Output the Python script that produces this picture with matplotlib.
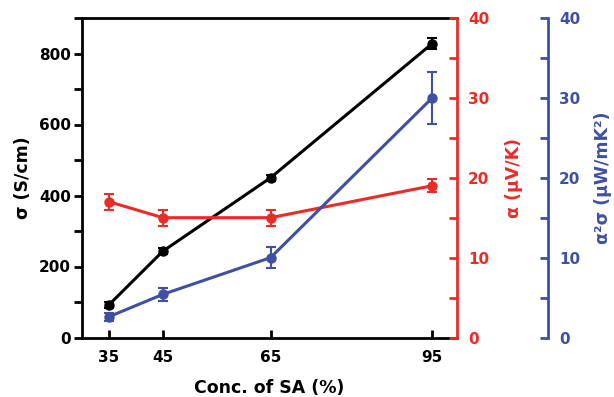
import matplotlib
matplotlib.use("Agg")
import matplotlib.pyplot as plt
from matplotlib.ticker import MultipleLocator

plt.rcParams['font.family'] = ['DejaVu Sans']
plt.rcParams['font.weight'] = 'bold'

conc = [35, 45, 65, 95]
sigma = [92, 243, 450, 828]
sigma_err = [8, 8, 8, 15]
alpha = [17, 15, 15, 19]
alpha_err = [1.0, 1.0, 1.0, 0.8]
pf = [2.6, 5.4, 10.0, 30.0]
pf_err = [0.5, 0.8, 1.3, 3.3]

RED = '#ec2b27'
BLUE = '#3f4fa3'

fig = plt.figure(figsize=(6.14, 3.97), dpi=100)
ax = fig.add_axes([82/614, 1-337.5/397, (457-82)/614, (337.5-18)/397])
ax2 = ax.twinx()
ax3 = ax.twinx()

lw = 2.2
kw = dict(lw=lw, marker='o', ms=6.5, capsize=3.5, capthick=1.5, elinewidth=1.5)
ax.errorbar(conc, sigma, yerr=sigma_err, color='black', **kw)
ax2.errorbar(conc, alpha, yerr=alpha_err, color=RED, mfc=RED, **kw)
ax3.errorbar(conc, pf, yerr=pf_err, color=BLUE, mfc=BLUE, **kw)

ax.set_xlim(30, 99.6)
ax.set_ylim(0, 900)
ax2.set_ylim(0, 40)
ax3.set_ylim(0, 40)

ax.set_xticks(conc)
ax.yaxis.set_major_locator(MultipleLocator(200))
ax.yaxis.set_minor_locator(MultipleLocator(100))
for a in (ax2, ax3):
    a.yaxis.set_major_locator(MultipleLocator(10))
    a.yaxis.set_minor_locator(MultipleLocator(5))

fs = 11
ax.tick_params(axis='y', direction='out', length=6, width=2, labelsize=fs, pad=2)
ax.tick_params(axis='y', which='minor', direction='out', length=6, width=2)
ax.tick_params(axis='x', direction='in', length=6, width=2, labelsize=fs, pad=9)
for a, c in ((ax2, RED), (ax3, BLUE)):
    a.tick_params(axis='y', which='both', direction='in', length=6, width=2,
                  colors=c, labelsize=fs, pad=8)
    for s in ('left', 'top', 'bottom'):
        a.spines[s].set_visible(False)
    a.spines['right'].set_color(c)
    a.spines['right'].set_linewidth(2)

ax.spines['right'].set_visible(False)
for s in ('left', 'top', 'bottom'):
    ax.spines[s].set_linewidth(2)
ax3.spines['right'].set_position(('outward', 65.5))

lfs = 12.5
ax.set_xlabel('Conc. of SA (%)', fontsize=lfs, fontweight='bold', labelpad=10)
ax.set_ylabel('σ (S/cm)', fontsize=lfs, fontweight='bold', labelpad=5)
ax2.set_ylabel('α (μV/K)', fontsize=lfs, fontweight='bold', color=RED, labelpad=11)
ax3.set_ylabel('α²σ (μW/mK²)', fontsize=lfs, fontweight='bold', color=BLUE, labelpad=10)

fig.savefig('out.png', dpi=100)
